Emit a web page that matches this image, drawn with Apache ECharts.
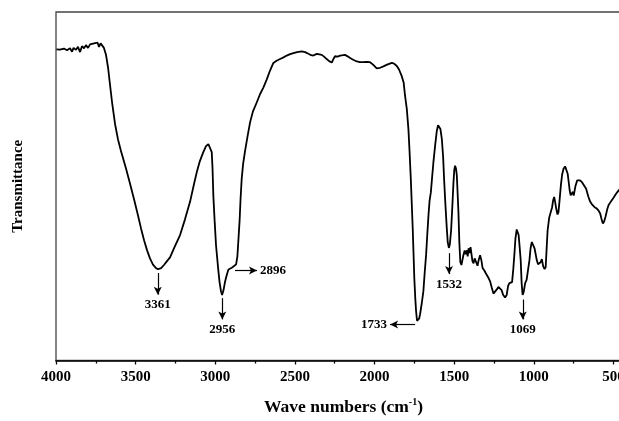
<!DOCTYPE html>
<html lang="en">
<head>
  <meta charset="UTF-8">
  <title>FTIR Spectrum</title>
  <script src="https://cdn.jsdelivr.net/npm/echarts@6.0.0/dist/echarts.min.js"></script>
  <style>
    html, body { margin: 0; padding: 0; background: #fff; overflow: hidden; }
  </style>
</head>
<body>
<!-- the frame runs past the right edge of the window, like the cropped original -->
<div id="chart" style="width: 693px; height: 421px;"></div>

<script>
  // wave numbers (cm-1)
  var waveNumbers = [
    3997, 3975, 3950, 3931, 3912, 3899, 3890, 3874, 3862, 3849, 3837, 3824, 3812, 3799, 3786, 3774,
    3761, 3749, 3739, 3730, 3720, 3711, 3699,
    3686, 3673, 3661, 3648, 3629, 3611, 3592, 3560, 3535, 3508, 3485, 3466, 3447, 3428, 3410, 3391,
    3372, 3359, 3340, 3322, 3303, 3284, 3253, 3221, 3190, 3158, 3133, 3114, 3096, 3075, 3058, 3043,
    3033, 3022, 3017, 3012, 3004, 2995, 2982, 2973, 2964, 2957, 2948, 2939, 2926, 2917, 2907, 2896,
    2882, 2869, 2861, 2854, 2847, 2841, 2834, 2825, 2813, 2797, 2781, 2763, 2739, 2719, 2698, 2677,
    2656, 2635, 2615, 2593, 2574, 2551, 2530, 2509, 2486, 2457, 2436, 2415, 2398, 2384, 2373, 2362,
    2352, 2331, 2317, 2300, 2285, 2268, 2257, 2248, 2232, 2216, 2204, 2185, 2166, 2153, 2134, 2111,
    2091, 2070, 2050, 2028, 2009, 1986, 1965, 1944, 1921, 1891, 1877, 1860, 1846, 1829, 1817, 1808,
    1797, 1787, 1780, 1772, 1766, 1760, 1755, 1750, 1744, 1739, 1733, 1726, 1720, 1714, 1703, 1693,
    1685, 1676, 1668, 1661, 1654, 1646, 1638, 1630, 1619, 1609, 1601, 1594, 1586, 1577, 1569, 1563,
    1555, 1546, 1540, 1533, 1527, 1519, 1511, 1504, 1499, 1494, 1488, 1483, 1478, 1473, 1467, 1461,
    1454, 1448, 1442, 1434, 1428, 1420, 1415, 1409, 1402, 1397, 1391, 1385, 1378, 1371, 1362, 1353,
    1346, 1337, 1329, 1321, 1311, 1302, 1293, 1283, 1274, 1263, 1253, 1243, 1232, 1222, 1211, 1202,
    1192, 1180, 1170, 1161, 1153, 1144, 1136, 1128, 1121, 1115, 1107, 1101, 1095, 1089, 1082, 1076,
    1070, 1063, 1054, 1045, 1036, 1027, 1020, 1012, 1004, 995, 981, 973, 964, 957, 949, 941,
    932, 925, 919, 913, 903, 894, 885, 878, 872, 866, 859, 851, 845, 837, 830, 822,
    813, 803, 793, 787, 780, 774, 768, 760, 754, 749, 738, 727, 718, 709, 696, 684,
    671, 657, 646, 633, 618, 604, 593, 583, 575, 566, 558, 549, 539, 530, 520, 510,
    499, 486, 474, 461
  ];

  // transmittance (arbitrary units, 0 = bottom of frame, 100 = top)
  var transmittance = [
    89.3, 89.2, 89.5, 89.0, 89.6, 88.6, 89.7, 89.2, 90.0, 88.5, 90.2, 89.6, 90.5, 89.7, 90.7, 90.2,
    91.0, 90.6, 91.2, 90.0, 91.0, 90.6, 89.7,
    87.7, 84.0, 79.2, 74.1, 67.8, 63.5, 60.1, 55.0, 50.7, 45.9, 41.6, 37.9, 34.5, 31.6, 29.3, 27.5,
    26.5, 26.2, 26.5, 27.4, 28.5, 29.6, 32.8, 36.0, 40.5, 45.6, 50.7, 54.4, 57.3, 59.8, 61.5, 62.1,
    61.7, 59.8, 55.0, 47.3, 40.2, 33.0, 26.5, 22.5, 19.9, 18.8, 20.2, 22.5, 24.8, 26.1, 26.5, 26.6,
    27.1, 27.6, 29.9, 35.0, 40.2, 46.4, 52.1, 56.4, 60.1, 64.4, 68.4, 71.5, 74.1, 76.4, 78.3, 80.6,
    83.2, 85.4, 86.0, 86.5, 86.9, 87.5, 87.9, 88.2, 88.5, 88.7, 88.5, 88.0, 87.6, 87.5, 87.8, 88.0,
    87.9, 87.7, 87.2, 86.5, 85.9, 85.5, 86.6, 87.3, 87.2, 87.5, 87.7, 87.7, 87.2, 86.8, 86.3, 85.8,
    85.6, 85.6, 85.7, 85.6, 84.9, 83.8, 84.0, 84.4, 84.9, 85.4, 85.2, 84.5, 83.5, 81.6, 79.8, 75.9,
    72.1, 66.4, 60.1, 52.1, 45.0, 37.9, 30.8, 23.6, 17.9, 14.2, 11.4, 11.3, 12.0, 13.2, 16.5, 19.9,
    25.1, 30.3, 36.5, 41.7, 45.9, 48.3, 52.7, 56.9, 61.8, 65.8, 67.5, 67.8, 66.4, 63.5, 58.4, 52.1,
    45.0, 37.9, 33.9, 32.3, 33.3, 37.3, 44.4, 51.2, 54.7, 55.9, 55.0, 53.1, 47.9, 42.6, 33.6, 28.2,
    27.4, 28.8, 30.2, 31.6, 30.5, 31.6, 29.9, 32.2, 30.8, 32.5, 30.5, 28.5, 27.9, 29.3, 28.8, 27.2,
    28.8, 30.2, 28.8, 26.5, 25.9, 25.1, 25.1, 23.6, 22.7, 20.8, 19.2, 19.7, 20.4, 21.1, 21.1, 20.2,
    18.8, 18.1, 18.8, 21.4, 22.2, 21.7, 22.5, 26.5, 30.8, 35.0, 37.6, 37.9, 36.0, 32.8, 28.8, 22.2,
    18.8, 19.7, 22.2, 23.1, 22.8, 28.8, 32.2, 34.0, 33.6, 32.2, 28.8, 27.6, 27.1, 28.2, 29.1, 27.1,
    26.2, 26.8, 32.2, 37.3, 41.0, 42.5, 43.9, 46.0, 46.9, 45.6, 43.6, 41.9, 42.5, 46.4, 50.1, 53.3,
    55.0, 55.7, 55.3, 53.6, 51.0, 48.7, 47.4, 47.9, 48.4, 47.3, 50.1, 51.7, 52.1, 51.7, 51.1, 50.7,
    49.3, 47.0, 45.6, 44.7, 44.0, 43.6, 43.0, 42.2, 40.7, 39.3, 39.9, 41.3, 43.3, 44.6, 45.3, 46.0,
    46.7, 47.6, 48.4, 49.1
  ];

  // peak annotations: label, arrow start [wn, T], arrow end [wn, T]
  var peakLabels = ['3361', '2956', '2896', '1733', '1532', '1069'];
  var arrowFrom = [[3361, 25.1], [2956, 17.9], [2876, 25.8], [1745, 10.3], [1532, 30.8], [1069, 17.5]];
  var arrowTo   = [[3361, 18.9], [2956, 11.8], [2738, 25.8], [1902, 10.3], [1532, 24.8], [1069, 11.8]];

  var serif = '"Times New Roman", "Liberation Serif", "DejaVu Serif", serif';

  var chart = echarts.init(document.getElementById('chart'));

  var seriesData = waveNumbers.map(function (w, i) { return [w, transmittance[i]]; });

  var arrows = peakLabels.map(function (txt, i) {
    var horizontal = arrowFrom[i][1] === arrowTo[i][1];
    return [
      { coord: arrowFrom[i], symbol: 'none' },
      {
        coord: arrowTo[i], symbol: 'arrow', symbolSize: [6, 8],
        label: {
          show: true, formatter: txt, position: 'end',
          distance: horizontal ? 3 : 4
        }
      }
    ];
  });

  var option = {
    backgroundColor: '#fff',
    animation: false,
    grid: {
      left: 56, top: 12, bottom: 58, right: 0,
      show: true, borderColor: '#444', borderWidth: 1.3
    },
    xAxis: {
      type: 'value',
      inverse: true,
      min: 0,
      max: 4000,
      interval: 500,
      name: '{a|Wave numbers (cm}{s|-1}{a|)}',
      nameLocation: 'middle',
      nameGap: 37,
      nameTextStyle: {
        padding: [0, 62, 0, 0],
        rich: {
          a: { fontFamily: serif, fontWeight: 'bold', fontSize: 17.5, color: '#000' },
          s: { fontFamily: serif, fontWeight: 'bold', fontSize: 10, color: '#000', verticalAlign: 'top', padding: [0, 0, 9, 0] }
        }
      },
      axisLine: { lineStyle: { color: '#000', width: 1.6 } },
      axisTick: { inside: false, length: 4, lineStyle: { color: '#000', width: 1.3 } },
      minorTick: { show: true, splitNumber: 2, length: 3, lineStyle: { color: '#000', width: 1.3 } },
      axisLabel: {
        fontFamily: serif, fontWeight: 'bold', fontSize: 15, color: '#000', margin: 9,
        showMinLabel: false,
        formatter: function (v) { return String(v); }
      },
      splitLine: { show: false }
    },
    yAxis: {
      type: 'value',
      min: 0,
      max: 100,
      name: 'Transmittance',
      nameLocation: 'middle',
      nameRotate: 90,
      nameGap: 30,
      nameTextStyle: { fontFamily: serif, fontWeight: 'bold', fontSize: 15, color: '#000' },
      axisLine: { show: true, lineStyle: { color: '#000', width: 1.6 } },
      axisTick: { show: false },
      axisLabel: { show: false },
      splitLine: { show: false }
    },
    series: [{
      type: 'line',
      data: seriesData,
      showSymbol: false,
      clip: true,
      lineStyle: { color: '#000', width: 1.8 },
      markLine: {
        silent: true,
        animation: false,
        lineStyle: { color: '#000', width: 1.2, type: 'solid' },
        label: { fontFamily: serif, fontWeight: 'bold', fontSize: 13, color: '#000' },
        data: arrows
      }
    }]
  };

  chart.setOption(option);
</script>
</body>
</html>
